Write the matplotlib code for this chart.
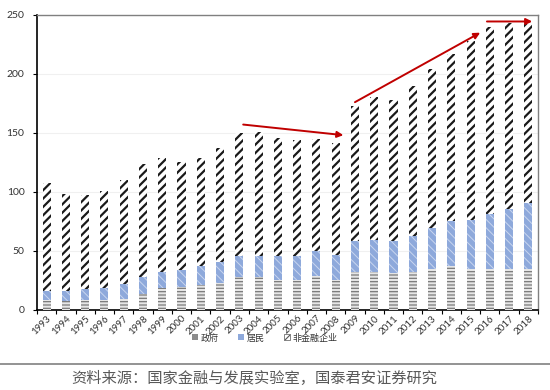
import matplotlib
matplotlib.use("Agg")
import matplotlib.pyplot as plt
from matplotlib.patches import Patch
from matplotlib.lines import Line2D
import numpy as np

plt.rcParams['font.family'] = ['Noto Sans CJK SC', 'DejaVu Sans']

years = [str(y) for y in range(1993, 2019)]
gov = [8.0, 7.3, 8.0, 8.0, 9.3, 13.5, 18.6, 19.2, 20.6, 22.6, 27.7, 27.7, 25.4,
       24.9, 28.2, 24.9, 31.9, 31.6, 30.8, 31.6, 34.5, 37.3, 34.5, 34.5, 34.5, 34.5]
gov_hh = [16.0, 15.3, 17.0, 18.6, 22.0, 27.7, 32.0, 33.3, 36.7, 40.4, 45.2, 45.2, 45.2,
          45.2, 49.7, 46.0, 58.2, 59.0, 58.5, 62.7, 69.2, 75.4, 76.0, 81.0, 85.3, 90.5]
total = [107.5, 98.0, 97.0, 101.0, 110.0, 123.5, 128.5, 125.0, 128.5, 137.5, 149.7, 150.8, 145.5,
         143.5, 145.0, 141.0, 173.0, 180.5, 178.0, 190.0, 204.5, 217.0, 227.7, 239.5, 243.5, 242.5]
households = [b - a for a, b in zip(gov, gov_hh)]
corporate = [t - b for b, t in zip(gov_hh, total)]
series_names = ['政府', '居民', '非金融企业']

arrows = [((10.2, 157), (15.4, 148)), ((16.0, 176), (22.5, 235)), ((22.85, 244.5), (25.2, 244.5))]

fig = plt.figure(figsize=(5.5, 3.9), dpi=100)
ax = fig.add_axes([37/550, 1 - 309.5/390, (538-37)/550, (309.5-15)/390])

x = np.arange(len(years))
w = 0.42

def styled_bar(vals, bottom, face, hatch, hcolor, hlw):
    plt.rcParams['hatch.linewidth'] = hlw
    bars = ax.bar(x, vals, w, bottom=bottom, color=face, edgecolor=hcolor,
                  linewidth=0, hatch=hatch, zorder=3)
    for p in bars:
        if hasattr(p, 'set_hatch_linewidth'):
            p.set_hatch_linewidth(hlw)
    return bars

styled_bar(gov, 0, '#e6e6e6', '-----', '#7a7a7a', 0.9)
styled_bar(households, gov, '#8ea9db', '\\\\\\\\', '#c9d6ef', 0.7)
styled_bar(corporate, gov_hh, 'white', '////', '#1a1a1a', 1.6)

ax.set_xlim(-0.5, len(years) - 0.5)
ax.set_ylim(0, 250)
ax.set_yticks([0, 50, 100, 150, 200, 250])
ax.yaxis.grid(True, color='#f0f0f0', linewidth=0.8, zorder=0)
ax.set_xticks(x)
ax.set_xticklabels(years, rotation=45, ha='right', va='top', rotation_mode='anchor',
                   fontsize=7, color='#333333', family='Lato')
ax.tick_params(axis='x', length=0, pad=3)
ax.set_xticks(np.arange(-0.5, len(years) + 0.5, 1), minor=True)
ax.tick_params(axis='x', which='minor', length=3, width=0.8, color='black', direction='out')
ax.tick_params(axis='y', length=3, width=0.8, labelsize=7.5, labelcolor='#333333', pad=6)
for lab in ax.get_yticklabels():
    lab.set_family('Lato')

for s in ['top', 'right']:
    ax.spines[s].set_color('#808080')
    ax.spines[s].set_linewidth(1.0)
for s in ['left', 'bottom']:
    ax.spines[s].set_color('black')
    ax.spines[s].set_linewidth(1.2)

for (x0, y0), (x1, y1) in arrows:
    ax.annotate('', xy=(x1, y1), xytext=(x0, y0),
                arrowprops=dict(arrowstyle='-|>', color='#c00000', lw=1.4,
                                mutation_scale=9, shrinkA=0, shrinkB=0), zorder=5)

plt.rcParams['hatch.linewidth'] = 0.8
handles = [Patch(facecolor='#8c8c8c', edgecolor='none'),
           Patch(facecolor='#8ea9db', edgecolor='none'),
           Patch(facecolor='white', edgecolor='#555555', hatch='////', linewidth=0.5)]
fig.legend(handles, series_names, loc='center', bbox_to_anchor=(265/550, 1 - 338/390),
           ncol=3, frameon=False, fontsize=6.5, handlelength=0.6, handleheight=0.6,
           handletextpad=0.3, columnspacing=2.2, labelcolor='#333333')

fig.add_artist(Line2D([0, 1], [1 - 364/390, 1 - 364/390], color='#808080', linewidth=1.2))
fig.text(254/550, 1 - 378/390, '资料来源：国家金融与发展实验室，国泰君安证券研究',
         ha='center', va='center', fontsize=11, color='#595959')

fig.savefig('out.png', dpi=100)
